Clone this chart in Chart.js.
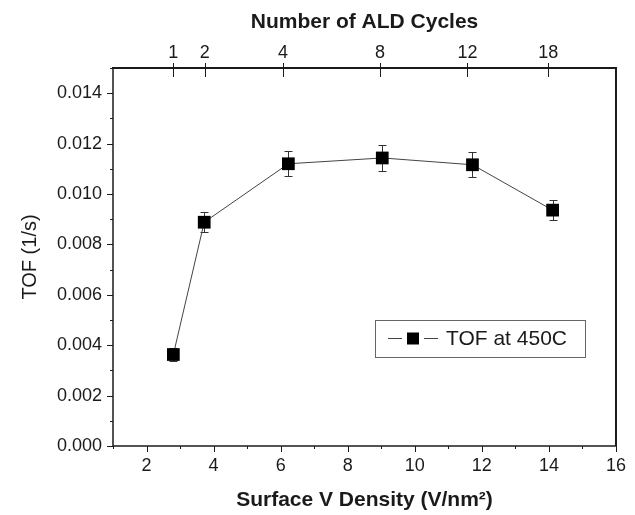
<!DOCTYPE html>
<html>
<head>
<meta charset="utf-8">
<script src="https://cdn.jsdelivr.net/npm/chart.js@4.4.1/dist/chart.umd.min.js"></script>
<style>
  html, body { margin: 0; padding: 0; background: #fff; }
</style>
</head>
<body>
<canvas id="tofChart" width="635" height="515"></canvas>
<script>
// surface V density of each sample (V/nm2)
const vDensity = [2.8, 3.72, 6.23, 9.03, 11.72, 14.11];
// TOF at 450C (1/s) and its error bar (+/-)
const tofValues = [0.00363, 0.00888, 0.0112, 0.01143, 0.01116, 0.00936];
const tofErrors = [0.00027, 0.0004, 0.0005, 0.0005, 0.0005, 0.0004];
// top axis: number of ALD cycles, placed on the density scale
const aldCycles = ['1', '2', '4', '8', '12', '18'];
const aldCyclePos = [2.8, 3.74, 6.07, 8.96, 11.57, 13.98];

const FONT = '"Liberation Sans", Arial, Helvetica, sans-serif';
const INK = '#1a1a1a';

function isMajorY(v) { return Math.round(v * 1000) % 2 === 0; }

// error bars, drawn under the square markers
const errorBars = {
    id: 'errorBars',
    beforeDatasetsDraw(chart) {
        const { ctx, scales } = chart;
        ctx.save();
        ctx.strokeStyle = '#333';
        ctx.lineWidth = 1;
        vDensity.forEach((xv, i) => {
            const px = Math.round(scales.x.getPixelForValue(xv)) + 0.5;
            const top = Math.round(scales.y.getPixelForValue(tofValues[i] + tofErrors[i])) + 0.5;
            const bot = Math.round(scales.y.getPixelForValue(tofValues[i] - tofErrors[i])) + 0.5;
            ctx.beginPath();
            ctx.moveTo(px, top); ctx.lineTo(px, bot);
            ctx.moveTo(px - 4, top); ctx.lineTo(px + 4, top);
            ctx.moveTo(px - 4, bot); ctx.lineTo(px + 4, bot);
            ctx.stroke();
        });
        ctx.restore();
    }
};

// box around the plot and the tick marks (major + minor) like the original
const frameAndTicks = {
    id: 'frameAndTicks',
    afterDraw(chart) {
        const { ctx, chartArea: a, scales } = chart;
        ctx.save();
        ctx.strokeStyle = INK;
        const seg = (x1, y1, x2, y2) => { ctx.beginPath(); ctx.moveTo(x1, y1); ctx.lineTo(x2, y2); ctx.stroke(); };

        ctx.lineWidth = 1;
        scales.x.ticks.forEach(t => {
            const px = Math.round(scales.x.getPixelForValue(t.value)) + 0.5;
            seg(px, a.bottom, px, a.bottom + (t.value % 2 === 0 ? 6 : 3));
        });
        scales.y.ticks.forEach(t => {
            const py = Math.round(scales.y.getPixelForValue(t.value)) + 0.5;
            seg(a.left, py, a.left - (isMajorY(t.value) ? 6 : 3), py);
        });
        scales.x2.ticks.forEach(t => {
            const px = Math.round(scales.x2.getPixelForValue(t.value)) + 0.5;
            seg(px, a.top - 5, px, a.top + 9);
        });

        ctx.lineWidth = 1.5;
        seg(a.left, a.top, a.left, a.bottom);
        seg(a.left, a.bottom, a.right, a.bottom);
        ctx.lineWidth = 2;
        seg(a.left - 1, a.top, a.right + 1, a.top);
        seg(a.right, a.top, a.right, a.bottom);
        ctx.restore();
    }
};

// legend box inside the plot area
const boxLegend = {
    id: 'boxLegend',
    afterDraw(chart) {
        const { ctx, chartArea: a } = chart;
        const ds = chart.data.datasets[0];
        const left = a.left + 262, top = a.top + 252, w = 210, h = 37;
        const cy = top + h / 2;
        ctx.save();
        ctx.strokeStyle = '#666';
        ctx.lineWidth = 1;
        ctx.strokeRect(left + 0.5, top + 0.5, w, h);
        ctx.strokeStyle = '#444';
        ctx.beginPath();
        ctx.moveTo(left + 13, cy); ctx.lineTo(left + 27, cy);
        ctx.moveTo(left + 49, cy); ctx.lineTo(left + 63, cy);
        ctx.stroke();
        ctx.fillStyle = '#000';
        ctx.fillRect(left + 32, cy - 6, 12, 12);
        ctx.fillStyle = INK;
        ctx.font = '21px ' + FONT;
        ctx.textBaseline = 'middle';
        ctx.fillText(ds.label, left + 71, cy + 1);
        ctx.restore();
    }
};

const points = vDensity.map((x, i) => ({ x: x, y: tofValues[i] }));

new Chart(document.getElementById('tofChart'), {
    type: 'line',
    data: {
        datasets: [{
            label: 'TOF at 450C',
            data: points,
            borderColor: '#444',
            borderWidth: 1,
            pointStyle: 'rect',
            pointRadius: 9,
            pointBackgroundColor: '#000',
            pointBorderWidth: 0,
            tension: 0
        }]
    },
    options: {
        responsive: false,
        animation: false,
        layout: { padding: { left: 0, right: 14, top: 0, bottom: 0 } },
        plugins: {
            legend: { display: false },
            tooltip: { enabled: false }
        },
        scales: {
            x: {
                type: 'linear',
                position: 'bottom',
                min: 1,
                max: 16,
                afterFit: s => { s.height = 69; },
                border: { display: false },
                grid: { drawOnChartArea: false, drawTicks: false },
                ticks: {
                    stepSize: 1,
                    autoSkip: false,
                    maxRotation: 0,
                    padding: 9,
                    color: INK,
                    font: { family: FONT, size: 18 },
                    callback: v => (v % 2 === 0 ? String(v) : '')
                },
                title: {
                    display: true,
                    text: 'Surface V Density (V/nm\u00B2)',
                    color: INK,
                    font: { family: FONT, size: 21, weight: 'bold' },
                    padding: { top: 0, bottom: 2 }
                }
            },
            x2: {
                type: 'linear',
                position: 'top',
                min: 1,
                max: 16,
                afterFit: s => { s.height = 68; },
                afterBuildTicks: s => { s.ticks = aldCyclePos.map(v => ({ value: v })); },
                border: { display: false },
                grid: { drawOnChartArea: false, drawTicks: false },
                ticks: {
                    autoSkip: false,
                    maxRotation: 0,
                    padding: 4,
                    color: INK,
                    font: { family: FONT, size: 18 },
                    callback: (v, i) => aldCycles[i]
                },
                title: {
                    display: true,
                    text: 'Number of ALD Cycles',
                    color: INK,
                    font: { family: FONT, size: 21, weight: 'bold' },
                    padding: { top: 10, bottom: 0 }
                }
            },
            y: {
                type: 'linear',
                min: 0,
                max: 0.015,
                afterFit: s => { s.width = 113; },
                border: { display: false },
                grid: { drawOnChartArea: false, drawTicks: false },
                ticks: {
                    stepSize: 0.001,
                    autoSkip: false,
                    padding: 11,
                    color: INK,
                    font: { family: FONT, size: 18 },
                    callback: v => (isMajorY(v) ? v.toFixed(3) : '')
                },
                title: {
                    display: true,
                    text: 'TOF (1/s)',
                    color: INK,
                    font: { family: FONT, size: 20 },
                    padding: { top: 18, bottom: 0 }
                }
            }
        }
    },
    plugins: [errorBars, frameAndTicks, boxLegend]
});
</script>
</body>
</html>
